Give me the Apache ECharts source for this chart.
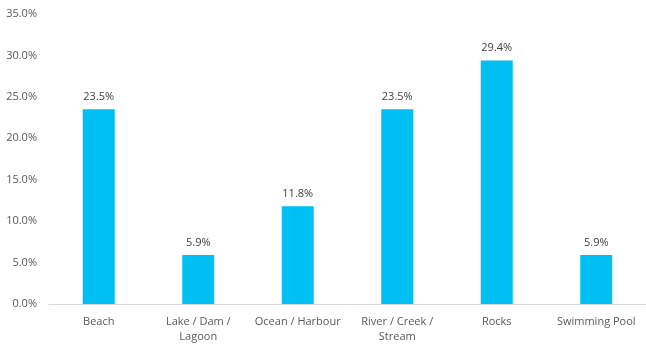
<!DOCTYPE html>
<html>
<head>
<meta charset="utf-8">
<script src="https://cdn.jsdelivr.net/npm/echarts@6/dist/echarts.min.js"></script>
<style>
html,body{margin:0;padding:0;background:#fff;}
#c{width:646px;height:344px;}
</style>
</head>
<body>
<div id="c"></div>
<script>
const categories = ['Beach', 'Lake / Dam /\nLagoon', 'Ocean / Harbour', 'River / Creek /\nStream', 'Rocks', 'Swimming Pool'];
const values = [23.5, 5.9, 11.8, 23.5, 29.4, 5.9];
const yTicks = { min: 0, max: 35, interval: 5 };

const chart = echarts.init(document.getElementById('c'), null, { renderer: 'canvas' });
const font = '"Open Sans", sans-serif';
chart.setOption({
  animation: false,
  grid: { left: 49, width: 600, top: 14, bottom: 40 },
  xAxis: {
    type: 'category',
    data: categories,
    axisLine: { lineStyle: { color: '#d9d9d9', width: 1 } },
    axisTick: { show: false },
    axisLabel: { color: '#595959', fontFamily: font, fontSize: 11, margin: 10, lineHeight: 15, interval: 0 }
  },
  yAxis: {
    type: 'value',
    min: yTicks.min, max: yTicks.max, interval: yTicks.interval,
    splitLine: { show: false },
    axisLine: { show: false },
    axisTick: { show: false },
    axisLabel: { color: '#595959', fontFamily: font, fontSize: 11, margin: 12, formatter: v => v.toFixed(1) + '%' }
  },
  series: [{
    type: 'bar',
    data: values,
    barWidth: 32,
    itemStyle: { color: '#00BFF3' },
    label: { show: true, position: 'top', distance: 7, color: '#404040', fontFamily: font, fontSize: 11, formatter: p => p.value.toFixed(1) + '%' }
  }]
});
</script>
</body>
</html>
